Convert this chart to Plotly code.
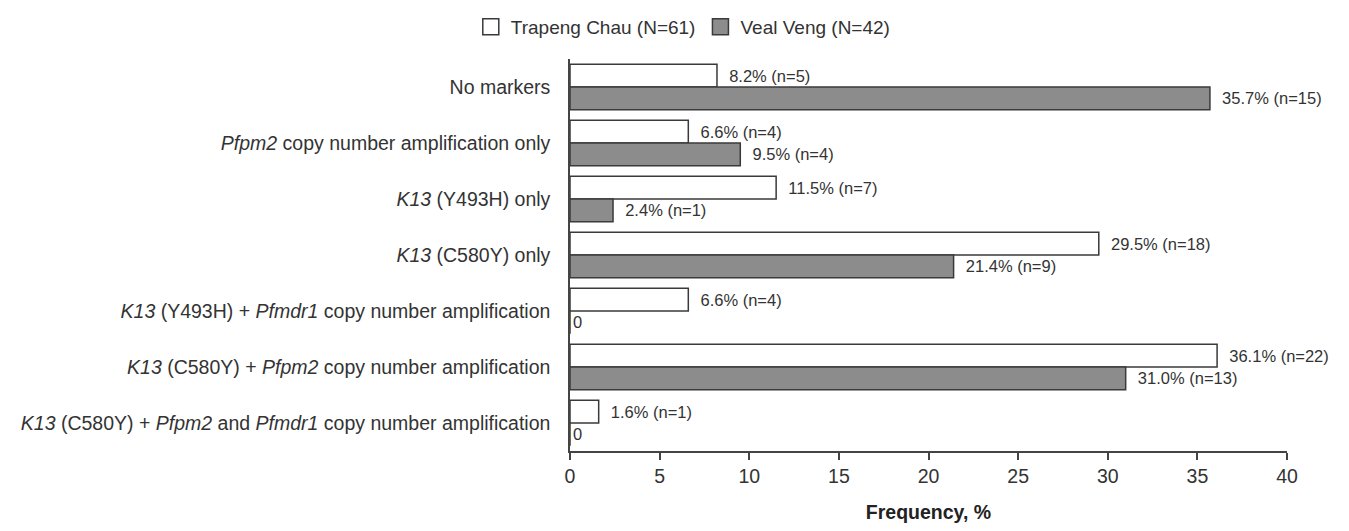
import plotly.graph_objects as go

categories = [
    "No markers",
    "<i>Pfpm2</i> copy number amplification only",
    "<i>K13</i> (Y493H) only",
    "<i>K13</i> (C580Y) only",
    "<i>K13</i> (Y493H) + <i>Pfmdr1</i> copy number amplification",
    "<i>K13</i> (C580Y) + <i>Pfpm2</i> copy number amplification",
    "<i>K13</i> (C580Y) + <i>Pfpm2</i> and <i>Pfmdr1</i> copy number amplification",
]
trapeng_pct = [8.2, 6.6, 11.5, 29.5, 6.6, 36.1, 1.6]
trapeng_n = [5, 4, 7, 18, 4, 22, 1]
veal_pct = [35.7, 9.5, 2.4, 21.4, 0, 31.0, 0]
veal_n = [15, 4, 1, 9, 0, 13, 0]
x_ticks = [0, 5, 10, 15, 20, 25, 30, 35, 40]
series_names = ["Trapeng Chau (N=61)", "Veal Veng (N=42)"]
series_colors = ["white", "#8c8c8c"]


def labels(pcts, ns):
    out = []
    for p, n in zip(pcts, ns):
        if p == 0:
            out.append("0")
        else:
            out.append(f"  {p:.1f}% (n={n})")
    return out


font_family = "Liberation Sans, Arial, sans-serif"
txt_color = "#333333"
edge = "#3a3a3a"

fig = go.Figure()
for name, color, pcts, ns in zip(series_names, series_colors,
                                 [trapeng_pct, veal_pct], [trapeng_n, veal_n]):
    fig.add_trace(go.Bar(
        name=name, y=categories, x=pcts, orientation="h",
        marker=dict(color=color, line=dict(color=edge, width=1.5)),
        text=labels(pcts, ns), textposition="outside",
        textfont=dict(size=16.5, color=txt_color, family=font_family),
        cliponaxis=False, showlegend=False,
    ))
# legend-only entries with larger square swatches
for name, color in zip(series_names, series_colors):
    fig.add_trace(go.Scatter(
        name=name, x=[None], y=[None], mode="markers",
        marker=dict(symbol="square", size=16, color=color, line=dict(color=edge, width=1.5)),
        showlegend=True,
    ))

# page body has an 8px margin; figure is offset by (8, 8)
fig.update_layout(
    width=1333, height=515,
    margin=dict(l=562, r=54, t=51, b=72, autoexpand=False),
    paper_bgcolor="white", plot_bgcolor="white",
    barmode="group", bargap=0.19, bargroupgap=0,
    font=dict(family=font_family, color=txt_color, size=19.5),
    showlegend=True,
    legend=dict(orientation="h", x=0.158, xanchor="center", y=1.082, yanchor="middle",
                font=dict(size=19, color=txt_color), traceorder="normal",
                itemwidth=30, itemsizing="trace"),
    uniformtext=dict(mode=False),
)
fig.update_xaxes(
    range=[0, 40], tickvals=x_ticks, ticktext=[str(t) for t in x_ticks],
    showline=True, linecolor="#444444", linewidth=1.5,
    ticks="outside", ticklen=7, tickcolor="#444444", tickwidth=1.5,
    showgrid=False, zeroline=False,
    tickfont=dict(size=19.5, color=txt_color),
    title=dict(text="<b>Frequency, %</b>", font=dict(size=19.5, color="#222222"), standoff=20),
)
fig.update_yaxes(
    autorange="reversed", showline=True, linecolor="#444444", linewidth=1.5,
    ticks="", showgrid=False, tickfont=dict(size=19.5, color=txt_color),
    ticklabelstandoff=14,
)

fig.write_html("out.html")
